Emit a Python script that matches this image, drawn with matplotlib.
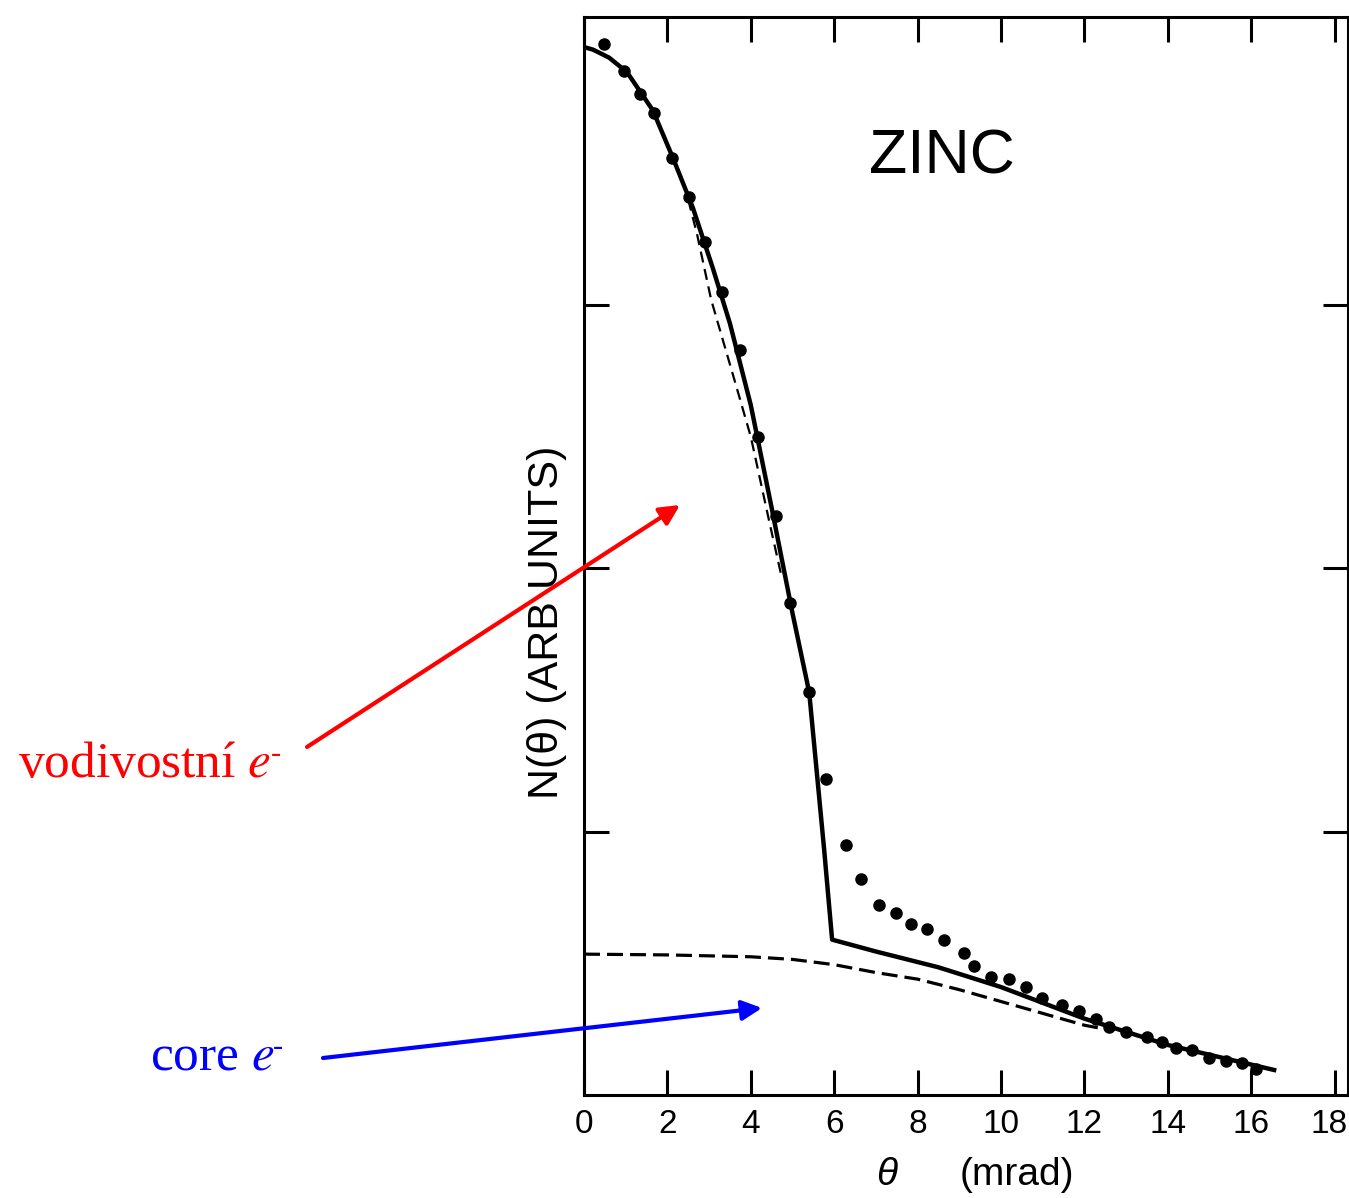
import matplotlib
matplotlib.use("Agg")
import matplotlib.pyplot as plt
import matplotlib.transforms as mtransforms

plt.rcParams['font.family'] = ['Liberation Sans', 'DejaVu Sans']
plt.rcParams['mathtext.fontset'] = 'stix'

# measured points (theta in mrad, N in arbitrary units)
theta_dots = [0.48, 0.96, 1.34, 1.68, 2.11, 2.52, 2.90, 3.31, 3.74, 4.17,
              4.60, 4.94, 5.40, 5.80, 6.28, 6.64, 7.07, 7.48, 7.84, 8.23,
              8.63, 9.11, 9.35, 9.76, 10.19, 10.60, 10.98, 11.46, 11.87, 12.28,
              12.59, 13.00, 13.50, 13.86, 14.20, 14.58, 14.99, 15.40, 15.78, 16.12]
n_dots = [3.99, 3.89, 3.80, 3.73, 3.56, 3.41, 3.24, 3.05, 2.83, 2.50,
          2.20, 1.87, 1.53, 1.20, 0.95, 0.82, 0.72, 0.69, 0.65, 0.63,
          0.59, 0.54, 0.49, 0.45, 0.44, 0.41, 0.37, 0.34, 0.32, 0.29,
          0.26, 0.24, 0.22, 0.20, 0.18, 0.17, 0.14, 0.13, 0.12, 0.10]

# total calculated curve (solid)
theta_fit = [0, 0.22, 0.6, 1.03, 1.65, 2.13, 2.61, 3.09, 3.5, 4.0, 4.5, 5.0, 5.4, 5.76, 5.95,
             7.0, 8.5, 10.0, 12.0, 14.0, 16.55]
n_fit = [3.98, 3.97, 3.94, 3.885, 3.74, 3.56, 3.37, 3.14, 2.93, 2.62, 2.23, 1.83, 1.53, 0.93, 0.59,
         0.545, 0.485, 0.41, 0.29, 0.19, 0.095]

# dashed curve on the steep part
theta_cond = [2.50, 2.71, 3.05, 3.60, 4.00, 4.44, 4.75]
n_cond = [3.40, 3.27, 3.02, 2.72, 2.50, 2.18, 1.96]

# core electron contribution (dashed)
theta_core = [0, 2, 4, 5, 6, 7, 8, 9, 10, 11, 12, 12.5]
n_core = [0.535, 0.532, 0.525, 0.515, 0.495, 0.465, 0.44, 0.40, 0.355, 0.31, 0.265, 0.25]

xticks = [0, 2, 4, 6, 8, 10, 12, 14, 16, 18]
yticks = [1, 2, 3]

fig = plt.figure(figsize=(13.49, 11.98), dpi=100)
ax = fig.add_axes([584 / 1349, 1 - 1095 / 1198, (1348 - 584) / 1349, (1095 - 17) / 1198])

ax.plot(theta_fit, n_fit, '-', color='black', lw=3.2)
ax.plot(theta_cond, n_cond, color='black', lw=1.6, linestyle=(0, (5, 3)))
ax.plot(theta_core, n_core, color='black', lw=2.3, linestyle=(0, (5, 2.2)))
ax.plot(theta_dots, n_dots, 'o', color='black', markersize=8)

ax.set_xlim(0, (1348 - 584) / 41.7)
ax.set_ylim(0, (1095 - 17) / 263.3)
ax.set_xticks(xticks)
ax.set_xticklabels([str(t) for t in xticks])
ax.set_yticks(yticks)
ax.set_yticklabels([])
ax.tick_params(direction='in', length=18, width=2.2, top=True, right=True,
               labelsize=24, pad=10)
for s in ax.spines.values():
    s.set_linewidth(2.2)

# last label sits right at the image edge, nudge it left a bit
last = ax.get_xticklabels()[-1]
last.set_transform(last.get_transform() + mtransforms.ScaledTranslation(-6 / 100, 0, fig.dpi_scale_trans))

fig.text(942, 1198 - 174, "ZINC", fontsize=45, ha='center', va='baseline',
         transform=None)
fig.text(547, 1198 - 622, "N(θ) (ARB UNITS)", fontsize=31, rotation=90,
         ha='center', va='center', transform=None)
fig.text(887, 13, "θ", fontsize=28, fontstyle='italic', ha='center', va='baseline',
         transform=None)
fig.text(1017, 13, "(mrad)", fontsize=28, ha='center', va='baseline', transform=None)

fig.text(18, 1198 - 777, "vodivostní $e$", fontsize=37, color='red',
         family='Liberation Serif', ha='left', va='baseline', transform=None)
fig.text(271, 1198 - 762, "-", fontsize=22, color='red',
         family='Liberation Serif', ha='left', va='baseline', transform=None)
fig.text(150, 1198 - 1070, "core $e$", fontsize=37, color='blue',
         family='Liberation Serif', ha='left', va='baseline', transform=None)
fig.text(273, 1198 - 1055, "-", fontsize=22, color='blue',
         family='Liberation Serif', ha='left', va='baseline', transform=None)

ax.annotate("", xy=(680, 1198 - 505), xycoords='figure pixels',
            xytext=(307, 1198 - 747), textcoords='figure pixels',
            arrowprops=dict(arrowstyle='-|>', color='red', lw=3,
                            mutation_scale=30, shrinkA=0, shrinkB=0),
            annotation_clip=False)
ax.annotate("", xy=(762, 1198 - 1008), xycoords='figure pixels',
            xytext=(323, 1198 - 1058), textcoords='figure pixels',
            arrowprops=dict(arrowstyle='-|>', color='blue', lw=3,
                            mutation_scale=30, shrinkA=0, shrinkB=0),
            annotation_clip=False)

fig.savefig("out.png", dpi=100)
